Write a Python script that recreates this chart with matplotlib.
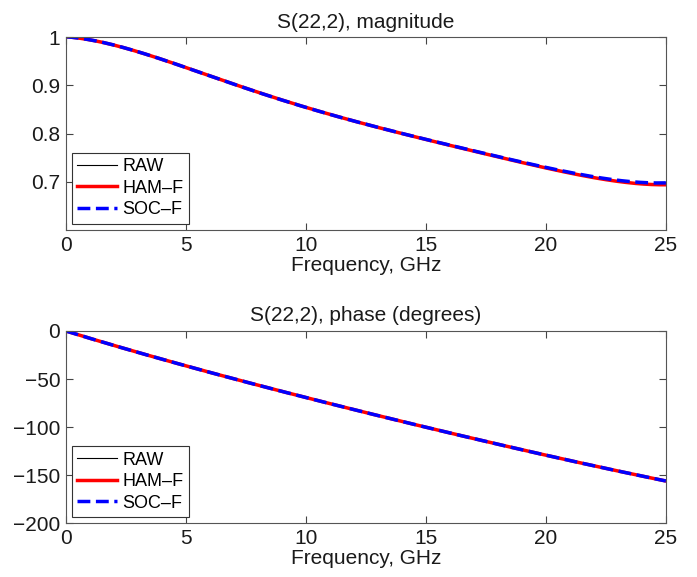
import numpy as np
import matplotlib
matplotlib.use("Agg")
import matplotlib.pyplot as plt

plt.rcParams['font.family'] = ['Liberation Sans', 'DejaVu Sans']

# frequency points, GHz
freq = [0, 2.5, 5, 7.5, 10, 12.5, 15, 17.5, 20, 22.5, 25]

# magnitude of S(22,2)
mag_raw = [1.0, 0.981, 0.935, 0.891, 0.857, 0.822, 0.788, 0.755, 0.728, 0.707, 0.694]
mag_ham = [1.0, 0.981, 0.935, 0.891, 0.857, 0.822, 0.788, 0.755, 0.728, 0.707, 0.693]
mag_soc = [1.0, 0.981, 0.935, 0.891, 0.857, 0.822, 0.788, 0.756, 0.729, 0.709, 0.697]

# phase of S(22,2), degrees
ph_raw = [0, -18.5, -36.4, -53, -69, -85, -100, -115, -129, -143, -156]
ph_ham = ph_raw
ph_soc = ph_raw

labels = ['RAW', 'HAM\u2013F', 'SOC\u2013F']


def smooth(x, y):
    # polynomial fit through the read points for a smooth curve
    xs = np.linspace(x[0], x[-1], 300)
    c = np.polyfit(x, y, 5)
    return xs, np.polyval(c, xs)


def draw(ax, y_raw, y_ham, y_soc, title, ylim, yticks):
    for y, col, lw, ls, lab in [(y_raw, 'black', 0.8, '-', labels[0]),
                                 (y_ham, 'red', 2.5, '-', labels[1]),
                                 (y_soc, 'blue', 2.5, '--', labels[2])]:
        xs, ys = smooth(freq, y)
        ax.plot(xs, ys, color=col, lw=lw, ls=ls, label=lab)
    ax.set_xlim(0, 25)
    ax.set_ylim(*ylim)
    ax.set_yticks(yticks)
    ax.set_xticks([0, 5, 10, 15, 20, 25])
    ax.set_title(title, fontsize=15, color='#1a1a1a', pad=7)
    ax.set_xlabel('Frequency, GHz', fontsize=15, color='#1a1a1a', labelpad=1)
    ax.tick_params(direction='in', top=True, right=True, labelsize=15,
                   length=5, colors='#444444', labelcolor='#1a1a1a', pad=4)
    for s in ax.spines.values():
        s.set_color('#555555')
    leg = ax.legend(loc='lower left', fontsize=13, fancybox=False,
                    handlelength=2.2, borderpad=0.3, labelspacing=0.25,
                    handletextpad=0.3, borderaxespad=0.35, framealpha=1)
    leg.get_frame().set_edgecolor('#333333')
    leg.get_frame().set_linewidth(0.8)


fig = plt.figure(figsize=(6.97, 5.77), dpi=100)
ax1 = fig.add_axes([0.0943, 0.6014, 0.861, 0.334])
ax2 = fig.add_axes([0.0943, 0.0931, 0.861, 0.3333])

draw(ax1, mag_raw, mag_ham, mag_soc, 'S(22,2), magnitude', (0.6, 1.0),
     [0.7, 0.8, 0.9, 1.0])
ax1.set_yticklabels(['0.7', '0.8', '0.9', '1'])
draw(ax2, ph_raw, ph_ham, ph_soc, 'S(22,2), phase (degrees)', (-200, 0),
     [-200, -150, -100, -50, 0])
ax2.set_yticklabels(['\u2212200', '\u2212150', '\u2212100', '\u221250', '0'])

fig.savefig('out.png', dpi=100)
